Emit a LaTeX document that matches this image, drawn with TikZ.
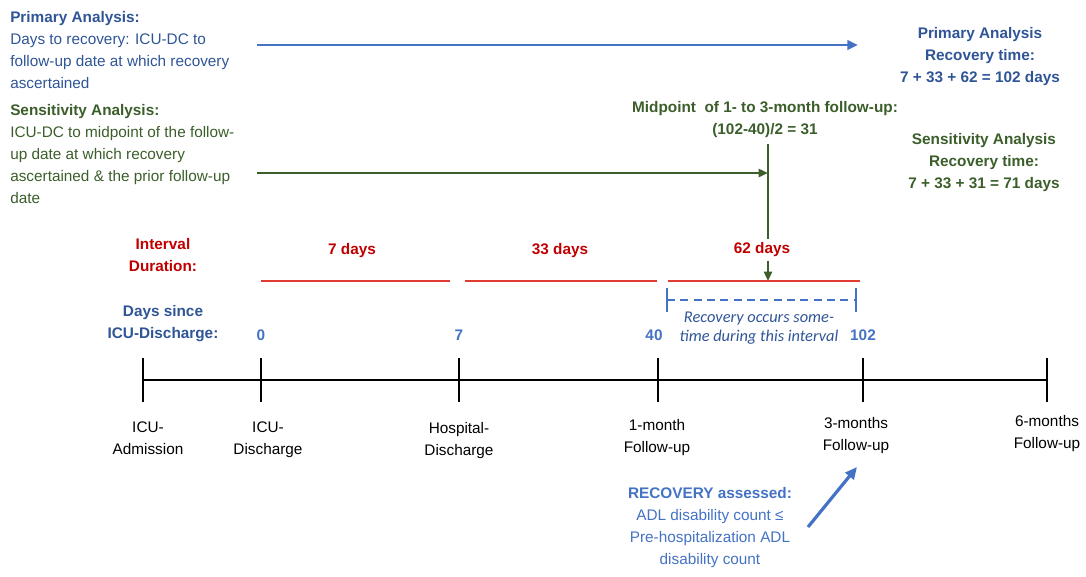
\documentclass[tikz,border=0pt]{standalone}
\usepackage{fontspec}
\setmainfont{Liberation Sans}
\newfontfamily\calibfont{Carlito}
\usetikzlibrary{arrows.meta}
\definecolor{navy}{HTML}{2F5597}
\definecolor{lblue}{HTML}{4472C4}
\definecolor{dgreen}{HTML}{3B5E2B}
\definecolor{dred}{HTML}{C00000}
\definecolor{lred}{HTML}{E03C31}
\tikzset{
  txt/.style={font=\fontsize{11.5}{16.5}\selectfont, inner sep=0pt, align=center},
  btxt/.style={txt, font=\fontsize{11.5}{16.5}\selectfont\bfseries},
  ital/.style={inner sep=0pt, align=center, font=\calibfont\fontsize{12.3}{14.3}\selectfont\itshape, text=navy},
  tick/.style={line width=1.6pt},
  redline/.style={line width=1.6pt, color=lred},
  arr/.style={line width=2pt, -{Triangle[length=8pt,width=7pt]}},
}

\begin{document}
\begin{tikzpicture}[x=0.75pt,y=-0.75pt]
  \useasboundingbox (0,0) rectangle (1086,576);

  % left explanations
  \node[txt, anchor=west, align=left, text=navy] (txtPrim) at (10,50.5)
    {\textbf{Primary Analysis:}\\Days to recovery: ICU-DC to\\follow-up date at which recovery\\ascertained};
  \node[txt, anchor=west, align=left, text=dgreen] (txtSens) at (10,154)
    {\textbf{Sensitivity Analysis:}\\ICU-DC to midpoint of the follow-\\up date at which recovery\\ascertained \& the prior follow-up\\date};

  % results on the right
  \node[btxt, text=navy] (resPrim) at (980,57) {Primary Analysis\\Recovery time:\\7 + 33 + 62 = 102 days};
  \node[btxt, text=dgreen] (resSens) at (984,163) {Sensitivity Analysis\\Recovery time:\\7 + 33 + 31 = 71 days};
  \node[btxt, text=dgreen] (midpt) at (765,120) {Midpoint\ \ of 1- to 3-month follow-up:\\(102-40)/2 = 31};

  % analysis arrows
  \coordinate (prS) at (257,45);
  \coordinate (prE) at (858,45);
  \coordinate (seS) at (257,173);
  \coordinate (seE) at (768,173);
  \coordinate (mdT) at (768,144);
  \coordinate (mdB) at (768,281);
  \draw[arr, color=lblue] (prS) -- (prE);
  \draw[line width=2pt, color=dgreen, -{Triangle[length=7pt,width=6pt]}] (seS) -- (seE);
  \draw[line width=2pt, color=dgreen, -{Triangle[length=7pt,width=6pt]}] (mdT) -- (mdB);

  % interval durations
  \node[btxt, text=dred] (durLbl) at (163,255) {Interval\\Duration:};
  \draw[redline] (261,281) -- (450,281);
  \draw[redline] (465,281) -- (657,281);
  \draw[redline] (668,281) -- (860,281);
  \node[btxt, text=dred] (dur1) at (352,251) {7 days};
  \node[btxt, text=dred] (dur2) at (560,251) {33 days};
  \node[btxt, text=dred, fill=white, inner sep=3pt] (dur3) at (762,250) {62 days};

  % recovery interval bracket
  \draw[line width=1pt, color=lblue] (667,288) -- (667,312);
  \draw[line width=1pt, color=lblue] (856,288) -- (856,312);
  \draw[line width=1pt, color=lblue, dash pattern=on 6pt off 4pt] (667,300) -- (856,300);
  \node[ital] (recInt) at (759,328.5) {Recovery occurs some-\\time during this interval};

  % days since discharge
  \node[btxt, text=navy] (daysLbl) at (163,324) {Days since\\ICU-Discharge:};
  \node[btxt, text=lblue] (d0) at (261,335) {0};
  \node[btxt, text=lblue] (d7) at (459,335) {7};
  \node[btxt, text=lblue] (d40) at (654,335) {40};
  \node[btxt, text=lblue] (d102) at (863,335) {102};

  % timeline
  \foreach \nm/\x in {tA/143, tB/261, tC/459, tD/658, tE/863, tF/1047}{
    \coordinate (\nm) at (\x,380);
    \draw[tick] (\x,358) -- (\x,402);
  }
  \draw[tick] (tA) -- (tF);

  \node[txt] (evA) at (148,438) {ICU-\\Admission};
  \node[txt] (evB) at (268,440) {ICU-\\Discharge};
  \node[txt] (evC) at (459,441) {Hospital-\\Discharge};
  \node[txt] (evD) at (657,438) {1-month\\Follow-up};
  \node[txt] (evE) at (856,436) {3-months\\Follow-up};
  \node[txt] (evF) at (1047,434) {6-months\\Follow-up};

  % recovery assessment
  \node[txt, text=lblue] (recAss) at (710,528)
    {\textbf{RECOVERY assessed:}\\ADL disability count ≤\\Pre-hospitalization ADL\\disability count};
  \coordinate (raS) at (808,527);
  \coordinate (raE) at (857,467);
  \draw[line width=2.4pt, color=lblue, -{Triangle[length=9pt,width=8pt]}] (raS) -- (raE);
\end{tikzpicture}
\end{document}
